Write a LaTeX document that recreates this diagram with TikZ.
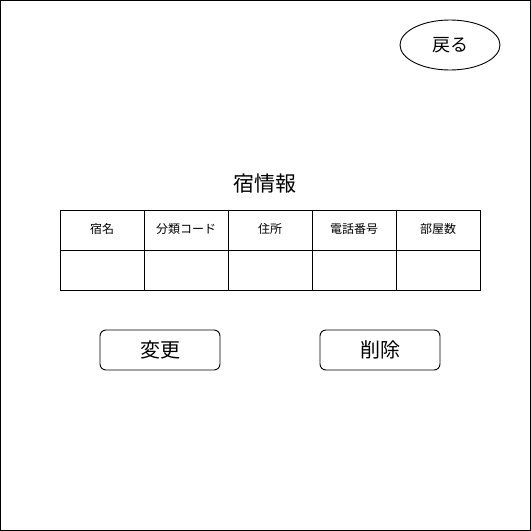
\documentclass[tikz,border=0pt]{standalone}
\usepackage{fontspec}
\setmainfont{Noto Sans CJK JP}
\usetikzlibrary{shapes.geometric}
\tikzset{
  cell/.style={font=\fontsize{12}{14}\selectfont},
  button/.style={draw, rounded corners=6pt, minimum width=120pt, minimum height=40pt, line width=0.9pt, font=\fontsize{20}{24}\selectfont}
}

\begin{document}
\begin{tikzpicture}[x=1pt, y=-1pt, line width=0.9pt]
			%%%%% START %%%%%
			
			\useasboundingbox (0, 0) rectangle (531, 531);
			\draw (0.5, 0.5) rectangle (530.5, 530.5);
			
			\node[draw, ellipse, minimum width=100pt, minimum height=50pt, inner sep=0pt, font=\fontsize{18}{22}\selectfont] (back) at (450, 45) {戻る};
			
			\node[font=\fontsize{21}{25}\selectfont] (title) at (265, 184) {宿情報};
			
			\draw (60, 210) rectangle (480, 290);
			\draw (60, 250) -- (480, 250);
			\foreach \i in {1,...,4}
				\draw ({60+84*\i}, 210) -- ({60+84*\i}, 290);
			
			\node[cell] (name) at (102, 229) {宿名};
			\node[cell] (kind) at (186, 229) {分類コード};
			\node[cell] (addr) at (270, 229) {住所};
			\node[cell] (tel) at (354, 229) {電話番号};
			\node[cell] (rooms) at (438, 229) {部屋数};
			
			\node[button] (change) at (160, 350) {変更};
			\node[button] (delete) at (380, 350) {削除};
			
			%%%%% END %%%%%
\end{tikzpicture}
\end{document}
